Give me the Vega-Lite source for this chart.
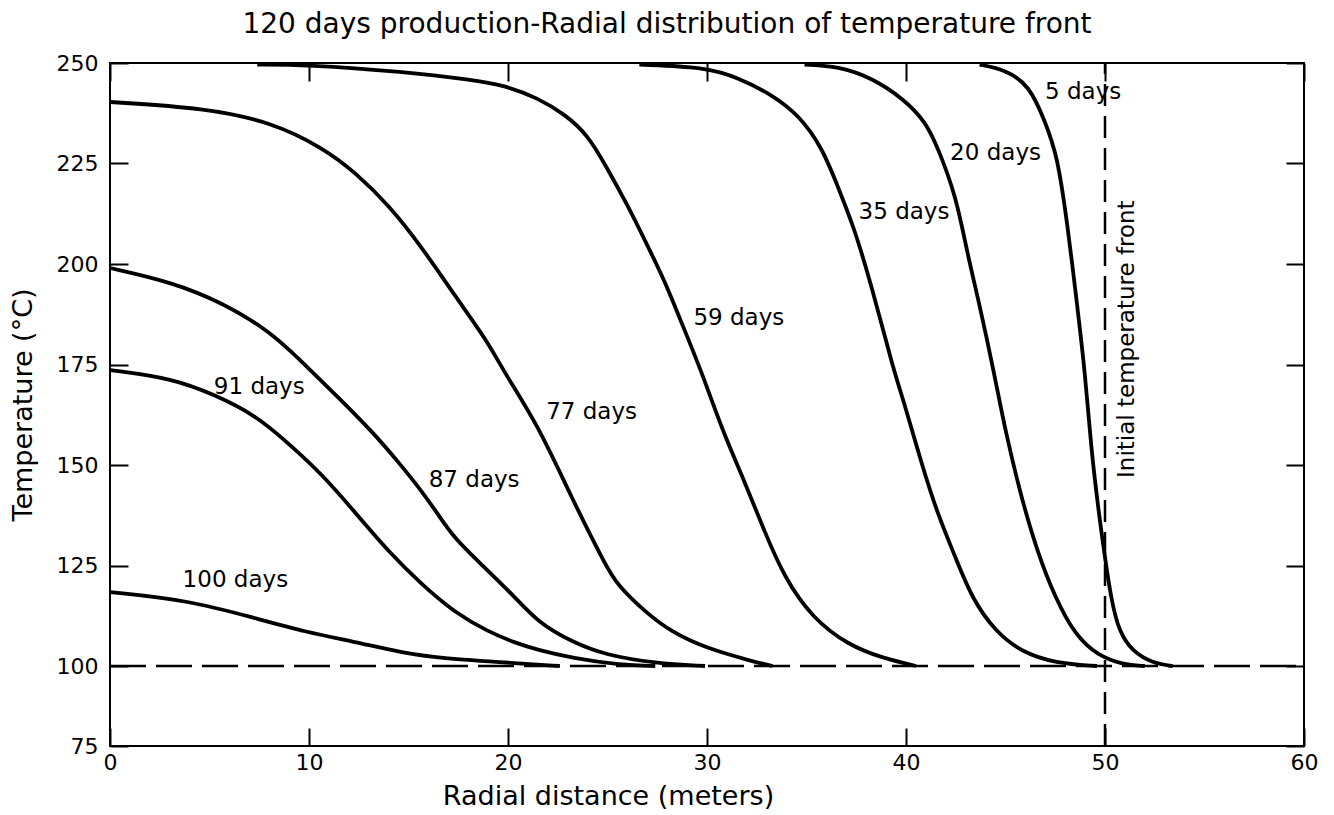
{
  "$schema": "https://vega.github.io/schema/vega-lite/v6.json",
  "width": 1194,
  "height": 683,
  "autosize": "none",
  "padding": {"left": 110, "top": 63, "right": 30, "bottom": 69},
  "background": "white",
  "title": {
    "text": "120 days production-Radial distribution of temperature front",
    "font": "DejaVu Sans",
    "fontSize": 28,
    "fontWeight": "normal",
    "color": "black",
    "anchor": "middle",
    "dx": -40,
    "offset": 13
  },
  "config": {
    "view": {"stroke": "black", "strokeWidth": 2},
    "axis": {
      "grid": false,
      "domain": false,
      "tickColor": "black",
      "tickWidth": 2,
      "labelColor": "black",
      "labelFont": "DejaVu Sans",
      "labelFontSize": 22,
      "labelFlush": false,
      "titleFont": "DejaVu Sans",
      "titleFontSize": 27,
      "titleFontWeight": "normal",
      "titleColor": "black"
    }
  },
  "datasets": {
    "curves": [
      {"series": "5 days", "x": 43.7, "T": 249.6},
      {"series": "5 days", "x": 45.0, "T": 248.3},
      {"series": "5 days", "x": 46.2, "T": 244.5},
      {"series": "5 days", "x": 47.0, "T": 235.3},
      {"series": "5 days", "x": 47.6, "T": 227.1},
      {"series": "5 days", "x": 48.1, "T": 210.4},
      {"series": "5 days", "x": 48.6, "T": 189.8},
      {"series": "5 days", "x": 49.0, "T": 172.9},
      {"series": "5 days", "x": 49.3, "T": 154.2},
      {"series": "5 days", "x": 49.7, "T": 137.6},
      {"series": "5 days", "x": 50.0, "T": 126.9},
      {"series": "5 days", "x": 50.3, "T": 116.9},
      {"series": "5 days", "x": 50.7, "T": 108.5},
      {"series": "5 days", "x": 51.4, "T": 103.5},
      {"series": "5 days", "x": 52.4, "T": 100.7},
      {"series": "5 days", "x": 53.4, "T": 100.0},

      {"series": "20 days", "x": 34.9, "T": 249.6},
      {"series": "20 days", "x": 36.6, "T": 249.2},
      {"series": "20 days", "x": 38.3, "T": 246.3},
      {"series": "20 days", "x": 39.9, "T": 241.0},
      {"series": "20 days", "x": 41.0, "T": 235.3},
      {"series": "20 days", "x": 41.6, "T": 228.9},
      {"series": "20 days", "x": 42.5, "T": 217.2},
      {"series": "20 days", "x": 43.1, "T": 202.2},
      {"series": "20 days", "x": 43.7, "T": 189.8},
      {"series": "20 days", "x": 44.4, "T": 173.6},
      {"series": "20 days", "x": 45.0, "T": 158.2},
      {"series": "20 days", "x": 45.8, "T": 141.8},
      {"series": "20 days", "x": 46.6, "T": 128.4},
      {"series": "20 days", "x": 47.5, "T": 116.9},
      {"series": "20 days", "x": 48.5, "T": 107.7},
      {"series": "20 days", "x": 49.6, "T": 102.7},
      {"series": "20 days", "x": 50.9, "T": 100.3},
      {"series": "20 days", "x": 52.0, "T": 100.0},

      {"series": "35 days", "x": 26.6, "T": 249.6},
      {"series": "35 days", "x": 29.9, "T": 249.0},
      {"series": "35 days", "x": 31.6, "T": 246.3},
      {"series": "35 days", "x": 33.3, "T": 242.0},
      {"series": "35 days", "x": 34.6, "T": 237.1},
      {"series": "35 days", "x": 35.8, "T": 228.9},
      {"series": "35 days", "x": 36.6, "T": 218.9},
      {"series": "35 days", "x": 37.4, "T": 209.0},
      {"series": "35 days", "x": 38.3, "T": 194.0},
      {"series": "35 days", "x": 39.4, "T": 173.1},
      {"series": "35 days", "x": 39.9, "T": 165.7},
      {"series": "35 days", "x": 40.8, "T": 150.0},
      {"series": "35 days", "x": 41.6, "T": 137.6},
      {"series": "35 days", "x": 42.5, "T": 126.9},
      {"series": "35 days", "x": 43.3, "T": 116.9},
      {"series": "35 days", "x": 44.5, "T": 108.5},
      {"series": "35 days", "x": 45.8, "T": 103.5},
      {"series": "35 days", "x": 47.5, "T": 100.7},
      {"series": "35 days", "x": 49.6, "T": 100.0},

      {"series": "59 days", "x": 7.4, "T": 249.6},
      {"series": "59 days", "x": 9.8, "T": 249.6},
      {"series": "59 days", "x": 14.8, "T": 247.8},
      {"series": "59 days", "x": 18.2, "T": 245.8},
      {"series": "59 days", "x": 19.8, "T": 244.5},
      {"series": "59 days", "x": 21.5, "T": 241.3},
      {"series": "59 days", "x": 22.9, "T": 237.1},
      {"series": "59 days", "x": 24.0, "T": 232.1},
      {"series": "59 days", "x": 24.9, "T": 224.6},
      {"series": "59 days", "x": 26.0, "T": 214.7},
      {"series": "59 days", "x": 27.0, "T": 204.7},
      {"series": "59 days", "x": 27.9, "T": 195.5},
      {"series": "59 days", "x": 28.7, "T": 185.6},
      {"series": "59 days", "x": 29.7, "T": 173.6},
      {"series": "59 days", "x": 30.8, "T": 158.2},
      {"series": "59 days", "x": 31.9, "T": 145.8},
      {"series": "59 days", "x": 32.9, "T": 133.3},
      {"series": "59 days", "x": 33.9, "T": 121.9},
      {"series": "59 days", "x": 35.3, "T": 111.9},
      {"series": "59 days", "x": 37.1, "T": 105.2},
      {"series": "59 days", "x": 38.8, "T": 102.0},
      {"series": "59 days", "x": 40.5, "T": 100.0},

      {"series": "77 days", "x": 0.0, "T": 240.3},
      {"series": "77 days", "x": 4.8, "T": 238.8},
      {"series": "77 days", "x": 8.1, "T": 235.3},
      {"series": "77 days", "x": 10.7, "T": 228.9},
      {"series": "77 days", "x": 12.3, "T": 222.9},
      {"series": "77 days", "x": 14.0, "T": 214.7},
      {"series": "77 days", "x": 15.7, "T": 204.0},
      {"series": "77 days", "x": 17.3, "T": 192.3},
      {"series": "77 days", "x": 19.0, "T": 180.6},
      {"series": "77 days", "x": 19.8, "T": 173.1},
      {"series": "77 days", "x": 21.5, "T": 160.0},
      {"series": "77 days", "x": 23.2, "T": 141.8},
      {"series": "77 days", "x": 24.9, "T": 125.1},
      {"series": "77 days", "x": 25.5, "T": 120.1},
      {"series": "77 days", "x": 26.9, "T": 113.4},
      {"series": "77 days", "x": 28.2, "T": 108.5},
      {"series": "77 days", "x": 29.9, "T": 104.5},
      {"series": "77 days", "x": 32.4, "T": 101.0},
      {"series": "77 days", "x": 33.3, "T": 100.0},

      {"series": "87 days", "x": 0.0, "T": 199.0},
      {"series": "87 days", "x": 3.1, "T": 195.5},
      {"series": "87 days", "x": 5.6, "T": 190.5},
      {"series": "87 days", "x": 8.1, "T": 183.1},
      {"series": "87 days", "x": 9.8, "T": 174.9},
      {"series": "87 days", "x": 11.5, "T": 166.7},
      {"series": "87 days", "x": 13.2, "T": 158.2},
      {"series": "87 days", "x": 14.5, "T": 150.7},
      {"series": "87 days", "x": 15.7, "T": 143.3},
      {"series": "87 days", "x": 16.5, "T": 137.6},
      {"series": "87 days", "x": 17.3, "T": 131.8},
      {"series": "87 days", "x": 18.7, "T": 125.1},
      {"series": "87 days", "x": 20.4, "T": 116.9},
      {"series": "87 days", "x": 21.5, "T": 110.9},
      {"series": "87 days", "x": 23.2, "T": 106.0},
      {"series": "87 days", "x": 24.9, "T": 102.7},
      {"series": "87 days", "x": 27.4, "T": 100.7},
      {"series": "87 days", "x": 29.9, "T": 100.0},

      {"series": "91 days", "x": 0.0, "T": 173.6},
      {"series": "91 days", "x": 3.1, "T": 171.6},
      {"series": "91 days", "x": 5.3, "T": 167.4},
      {"series": "91 days", "x": 7.3, "T": 162.4},
      {"series": "91 days", "x": 8.9, "T": 155.7},
      {"series": "91 days", "x": 10.7, "T": 147.5},
      {"series": "91 days", "x": 12.3, "T": 138.3},
      {"series": "91 days", "x": 14.0, "T": 128.4},
      {"series": "91 days", "x": 15.7, "T": 120.1},
      {"series": "91 days", "x": 17.3, "T": 113.4},
      {"series": "91 days", "x": 19.0, "T": 108.5},
      {"series": "91 days", "x": 20.4, "T": 105.7},
      {"series": "91 days", "x": 21.5, "T": 104.0},
      {"series": "91 days", "x": 23.2, "T": 102.0},
      {"series": "91 days", "x": 25.7, "T": 100.2},
      {"series": "91 days", "x": 27.4, "T": 100.0},

      {"series": "100 days", "x": 0.0, "T": 118.4},
      {"series": "100 days", "x": 3.9, "T": 116.4},
      {"series": "100 days", "x": 7.3, "T": 111.9},
      {"series": "100 days", "x": 9.8, "T": 108.5},
      {"series": "100 days", "x": 12.3, "T": 106.0},
      {"series": "100 days", "x": 14.8, "T": 103.2},
      {"series": "100 days", "x": 16.5, "T": 102.0},
      {"series": "100 days", "x": 20.4, "T": 100.7},
      {"series": "100 days", "x": 22.6, "T": 100.0}
    ],
    "labels": [
      {"text": "5 days", "x": 48.9, "T": 242.8, "angle": 0},
      {"text": "20 days", "x": 44.5, "T": 227.6, "angle": 0},
      {"text": "35 days", "x": 39.9, "T": 212.9, "angle": 0},
      {"text": "59 days", "x": 31.6, "T": 186.6, "angle": 0},
      {"text": "77 days", "x": 24.2, "T": 163.2, "angle": 0},
      {"text": "87 days", "x": 18.3, "T": 146.3, "angle": 0},
      {"text": "91 days", "x": 7.5, "T": 169.4, "angle": 0},
      {"text": "100 days", "x": 6.3, "T": 121.4, "angle": 0},
      {"text": "Initial temperature front", "x": 51.1, "T": 181.3, "angle": 270}
    ],
    "hrule": [{"x": 0, "x2": 60, "T": 100}],
    "vrule": [{"x": 50, "T": 75, "T2": 250}]
  },
  "layer": [
    {
      "data": {"name": "curves"},
      "mark": {"type": "line", "interpolate": "basis", "color": "black", "strokeWidth": 3.8},
      "encoding": {
        "x": {
          "field": "x", "type": "quantitative",
          "scale": {"domain": [0, 60], "nice": false, "zero": false},
          "axis": {"orient": "bottom", "values": [0, 10, 20, 30, 40, 50, 60], "tickSize": -18, "labelPadding": 24,
                   "title": "Radial distance (meters)", "titleX": 498, "titleAnchor": null, "titleAlign": "center", "titlePadding": 10}
        },
        "y": {
          "field": "T", "type": "quantitative",
          "scale": {"domain": [75, 100, 250], "range": [683, 603, 0], "nice": false, "zero": false},
          "axis": {"orient": "left", "values": [75, 100, 125, 150, 175, 200, 225, 250], "tickSize": -18, "labelPadding": 30,
                   "title": "Temperature (°C)", "titlePadding": 19}
        },
        "detail": {"field": "series"}
      }
    },
    {
      "data": {"name": "hrule"},
      "mark": {"type": "rule", "color": "black", "strokeWidth": 2.5, "strokeDash": [36, 10]},
      "encoding": {
        "x": {"field": "x", "type": "quantitative",
              "axis": {"orient": "top", "values": [0, 10, 20, 30, 40, 50, 60], "tickSize": -18, "labels": false, "title": null}},
        "x2": {"field": "x2"},
        "y": {"field": "T", "type": "quantitative",
              "axis": {"orient": "right", "values": [75, 100, 125, 150, 175, 200, 225, 250], "tickSize": -18, "labels": false, "title": null}}
      }
    },
    {
      "data": {"name": "vrule"},
      "mark": {"type": "rule", "color": "black", "strokeWidth": 2.5, "strokeDash": [22, 10]},
      "encoding": {
        "x": {"field": "x", "type": "quantitative", "axis": null},
        "y": {"field": "T", "type": "quantitative", "axis": null},
        "y2": {"field": "T2"}
      }
    },
    {
      "data": {"name": "labels"},
      "mark": {"type": "text", "font": "DejaVu Sans", "fontSize": 23, "color": "black", "align": "center", "baseline": "middle"},
      "encoding": {
        "x": {"field": "x", "type": "quantitative", "axis": null},
        "y": {"field": "T", "type": "quantitative", "axis": null},
        "text": {"field": "text"},
        "angle": {"field": "angle", "type": "quantitative", "scale": null}
      }
    }
  ],
  "resolve": {"axis": {"x": "independent", "y": "independent"}}
}
